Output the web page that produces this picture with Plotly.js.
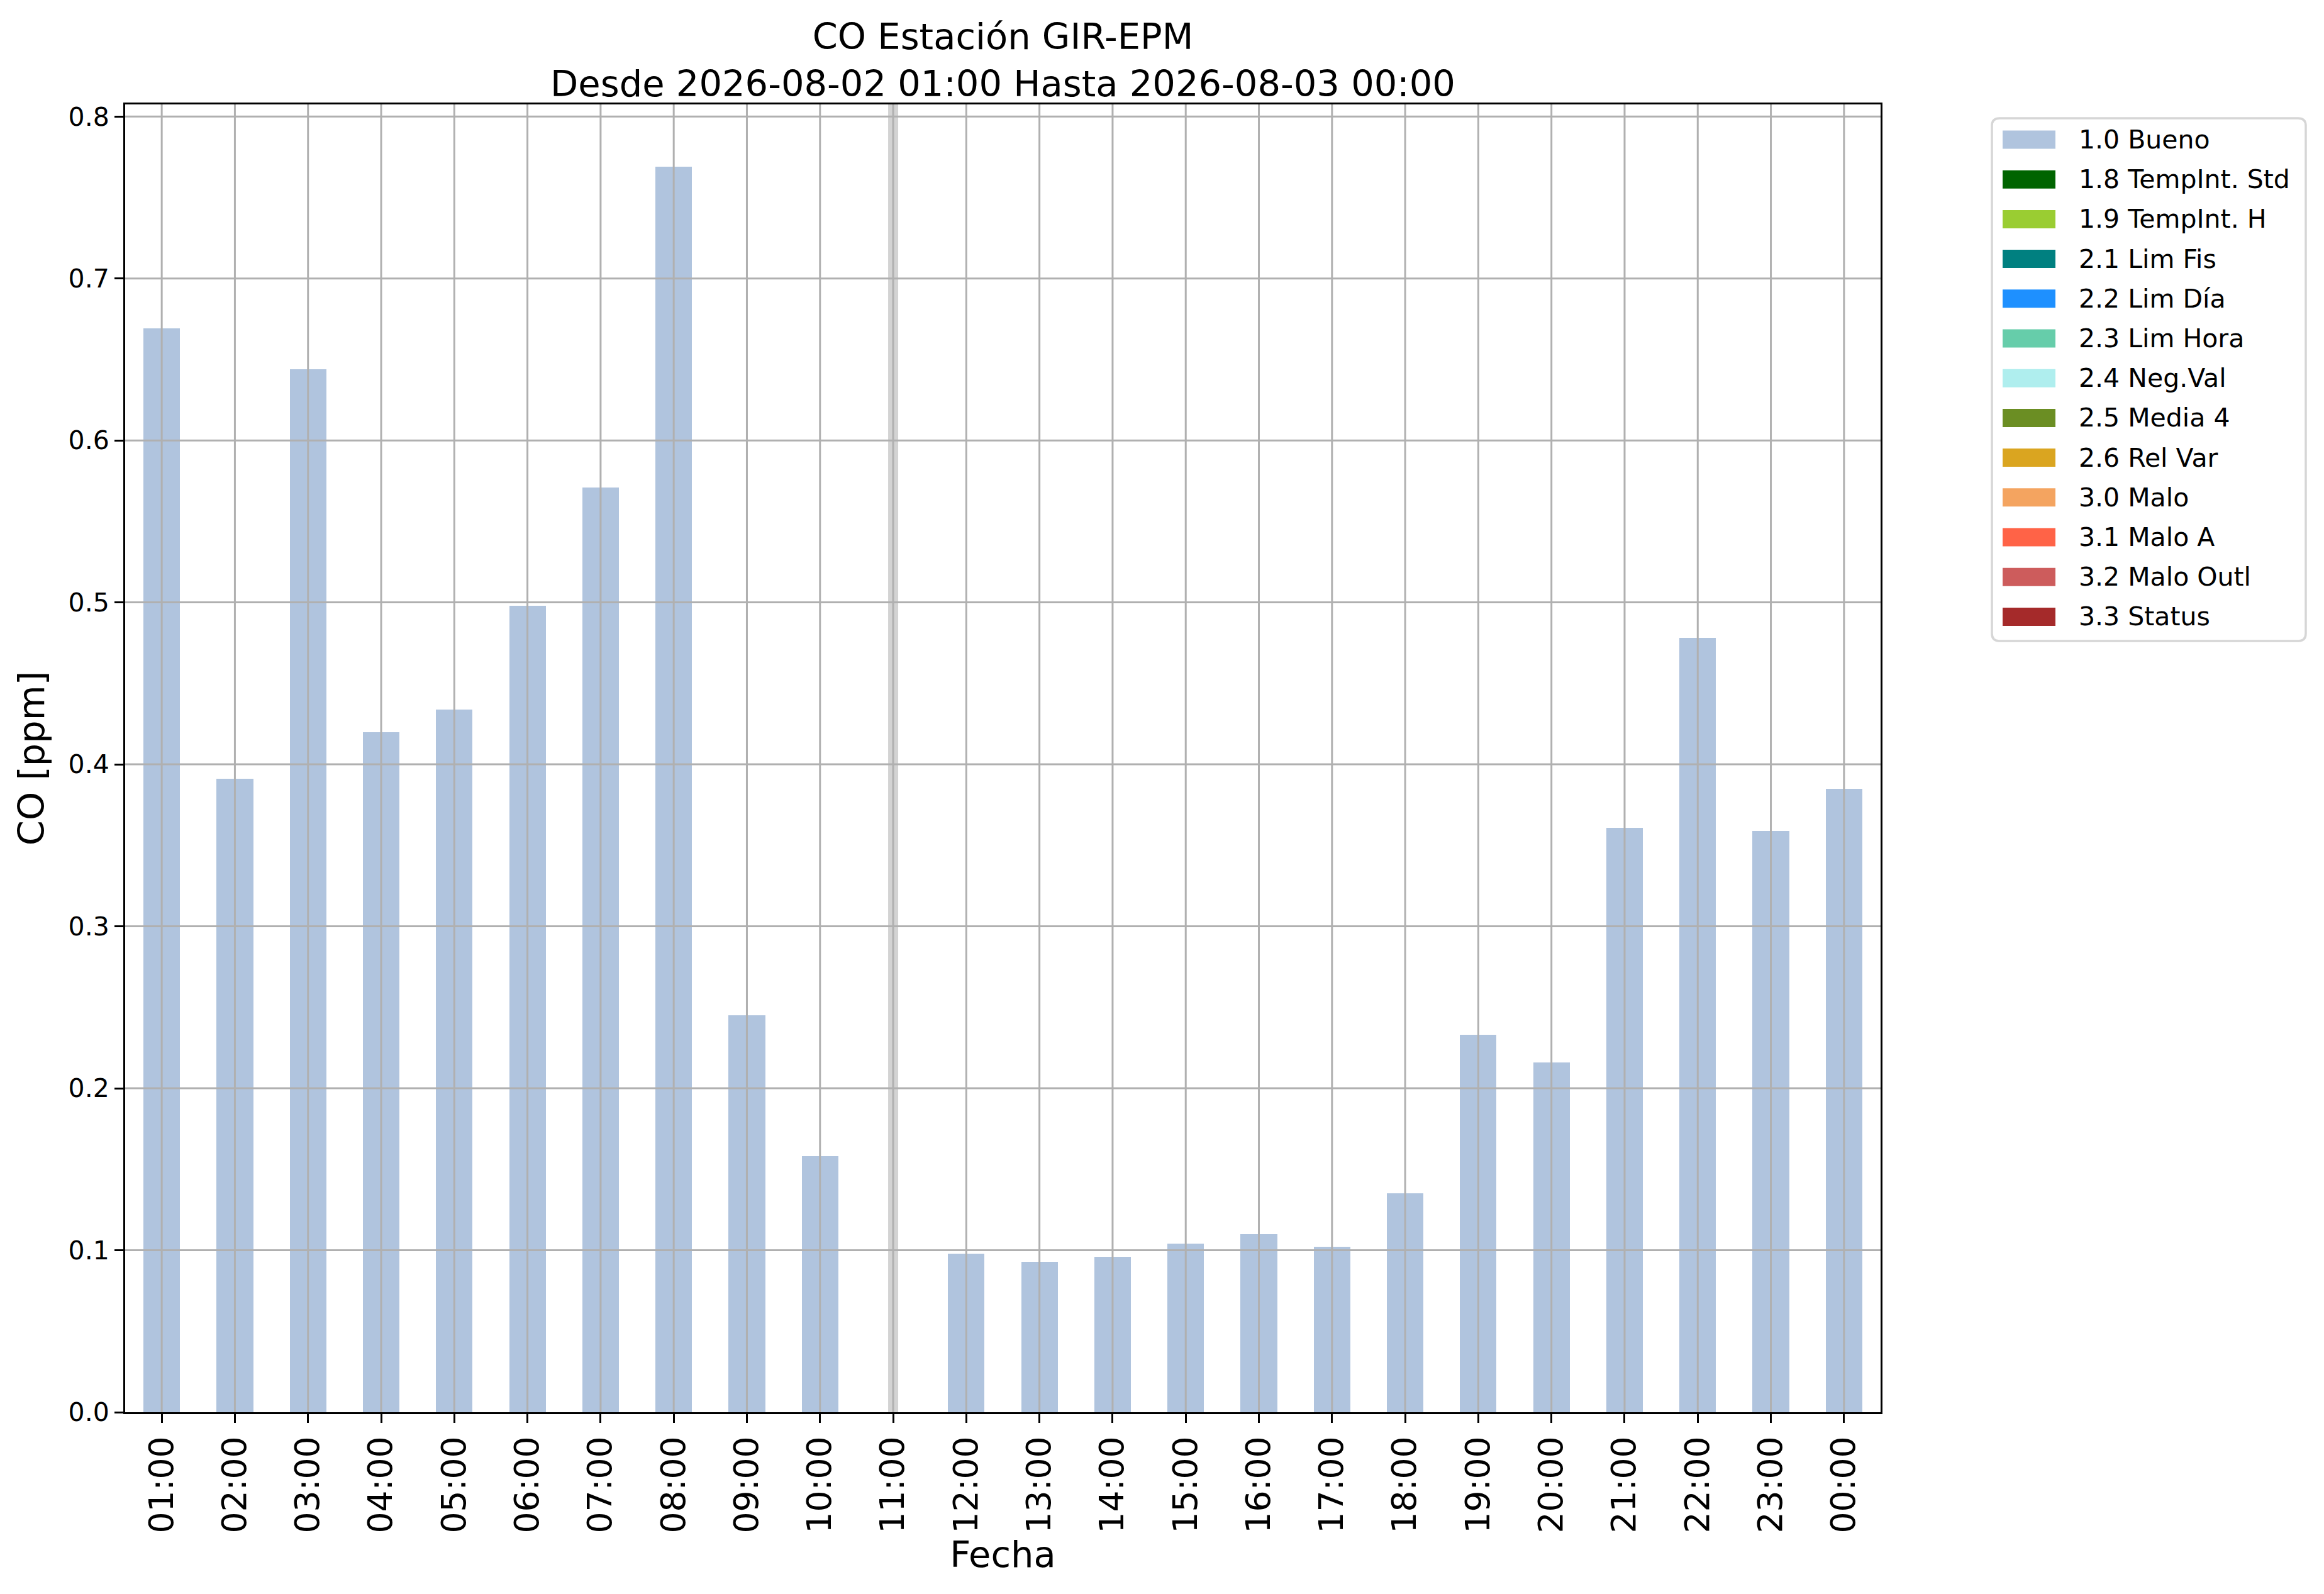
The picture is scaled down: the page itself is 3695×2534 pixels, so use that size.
<!DOCTYPE html>
<html>
<head>
<meta charset="utf-8">
<script src="https://cdn.plot.ly/plotly-3.0.1.min.js"></script>
<style>
  html, body { margin: 0; padding: 0; background: #fff; }
  #chart { width: 3695px; height: 2534px; }
</style>
</head>
<body>
<div id="chart"></div>
<script>
// hourly CO, station GIR-EPM
const hours = ['01:00', '02:00', '03:00', '04:00', '05:00', '06:00', '07:00', '08:00',
  '09:00', '10:00', '11:00', '12:00', '13:00', '14:00', '15:00', '16:00',
  '17:00', '18:00', '19:00', '20:00', '21:00', '22:00', '23:00', '00:00'];
const coValues = [0.669, 0.391, 0.644, 0.420, 0.434, 0.498, 0.571, 0.769,
  0.245, 0.158, null, 0.098, 0.093, 0.096, 0.104, 0.110,
  0.102, 0.135, 0.233, 0.216, 0.361, 0.478, 0.359, 0.385];
const coFlags = ['1.0 Bueno', '1.0 Bueno', '1.0 Bueno', '1.0 Bueno', '1.0 Bueno', '1.0 Bueno', '1.0 Bueno', '1.0 Bueno',
  '1.0 Bueno', '1.0 Bueno', null, '1.0 Bueno', '1.0 Bueno', '1.0 Bueno', '1.0 Bueno', '1.0 Bueno',
  '1.0 Bueno', '1.0 Bueno', '1.0 Bueno', '1.0 Bueno', '1.0 Bueno', '1.0 Bueno', '1.0 Bueno', '1.0 Bueno'];
const missingHours = ['11:00'];
const yTicks = [0.0, 0.1, 0.2, 0.3, 0.4, 0.5, 0.6, 0.7, 0.8];

const flagLabels = ['1.0 Bueno', '1.8 TempInt. Std', '1.9 TempInt. H', '2.1 Lim Fis', '2.2 Lim Día',
  '2.3 Lim Hora', '2.4 Neg.Val', '2.5 Media 4', '2.6 Rel Var', '3.0 Malo', '3.1 Malo A',
  '3.2 Malo Outl', '3.3 Status'];
const flagColors = ['#B0C4DE', '#006400', '#9ACD32', '#008080', '#1E90FF',
  '#66CDAA', '#AFEEEE', '#6B8E23', '#DAA520', '#F4A460', '#FF6347',
  '#CD5C5C', '#A52A2A'];

const FONT = 'DejaVu Sans, sans-serif';
const W = 3695, H = 2534;
const M = { l: 199, r: 705, t: 166, b: 289 };
const plotW = W - M.l - M.r, plotH = H - M.t - M.b;
const px2x = px => (px - M.l) / plotW;
const py2y = py => (H - M.b - py) / plotH;

// one stacked bar trace per quality flag
const traces = flagLabels.map((flag, i) => ({
  type: 'bar', name: flag,
  x: hours,
  y: coValues.map((v, j) => coFlags[j] === flag ? v : null),
  marker: { color: flagColors[i], line: { width: 0 } },
  showlegend: false,
  hovertemplate: '%{x}<br>%{y:.3f} ppm<extra>' + flag + '</extra>',
}));

const maxVal = Math.max(...coValues.filter(v => v !== null));
const yMax = maxVal * 1.05;

const shapes = [];
// gap marker for hours without data
missingHours.forEach(h => shapes.push({
  type: 'line', xref: 'x', yref: 'paper', x0: h, x1: h, y0: 0, y1: 1,
  line: { color: '#d3d3d3', width: 16 }, layer: 'below',
}));
// grid drawn over the bars, like the matplotlib original
hours.forEach(h => shapes.push({
  type: 'line', xref: 'x', yref: 'paper', x0: h, x1: h, y0: 0, y1: 1,
  line: { color: '#b0b0b0', width: 3 }, layer: 'above',
}));
yTicks.filter(t => t > 0).forEach(t => shapes.push({
  type: 'line', xref: 'paper', yref: 'y', x0: 0, x1: 1, y0: t, y1: t,
  line: { color: '#b0b0b0', width: 3 }, layer: 'above',
}));

// legend box (matplotlib style patches)
const LEG = { left: 3167, right: 3666, top: 188, bottom: 1019, patchX: 3184, patchW: 84, patchH: 29,
  firstY: 222, step: 63.2, textX: 3303, r: 12 };
const rx = LEG.r / plotW, ry = LEG.r / plotH;
const x0 = px2x(LEG.left), x1 = px2x(LEG.right), yT = py2y(LEG.top), yB = py2y(LEG.bottom);
shapes.push({
  type: 'path', xref: 'paper', yref: 'paper', layer: 'above',
  path: `M${x0 + rx},${yT} L${x1 - rx},${yT} Q${x1},${yT} ${x1},${yT - ry} L${x1},${yB + ry} ` +
        `Q${x1},${yB} ${x1 - rx},${yB} L${x0 + rx},${yB} Q${x0},${yB} ${x0},${yB + ry} ` +
        `L${x0},${yT - ry} Q${x0},${yT} ${x0 + rx},${yT} Z`,
  fillcolor: '#ffffff', line: { color: '#d6d6d6', width: 3.5 },
});
const annotations = [];
flagLabels.forEach((flag, i) => {
  const cy = LEG.firstY + i * LEG.step;
  shapes.push({
    type: 'rect', xref: 'paper', yref: 'paper', layer: 'above',
    x0: px2x(LEG.patchX), x1: px2x(LEG.patchX + LEG.patchW),
    y0: py2y(cy + LEG.patchH / 2), y1: py2y(cy - LEG.patchH / 2),
    fillcolor: flagColors[i], line: { width: 0 },
  });
  annotations.push({
    xref: 'paper', yref: 'paper', x: px2x(LEG.textX), y: py2y(cy),
    xanchor: 'left', yanchor: 'middle', showarrow: false,
    text: flag, font: { family: FONT, size: 41, color: '#000' },
  });
});

const axisCommon = {
  showline: true, linecolor: '#000', linewidth: 3, mirror: true,
  ticks: 'outside', ticklen: 14, tickwidth: 3, tickcolor: '#000',
  showgrid: false, zeroline: false, fixedrange: true,
};

const layout = {
  width: W, height: H,
  paper_bgcolor: '#fff', plot_bgcolor: '#fff',
  font: { family: FONT, color: '#000' },
  margin: M,
  barmode: 'stack', bargap: 0.5,
  showlegend: false,
  title: {
    text: 'CO Estación GIR-EPM<br>Desde 2026-08-02 01:00 Hasta 2026-08-03 00:00',
    font: { family: FONT, size: 57.5, color: '#000' },
    x: 0.5, xref: 'paper', xanchor: 'center',
    y: 1, yref: 'paper', yanchor: 'bottom', pad: { b: 88 },
  },
  xaxis: {
    ...axisCommon,
    type: 'category', categoryorder: 'array', categoryarray: hours,
    range: [-0.5, hours.length - 0.5],
    tickangle: -90,
    tickfont: { family: FONT, size: 53.5, color: '#000' },
    title: { text: 'Fecha', font: { family: FONT, size: 57.5, color: '#000' }, standoff: 8 },
  },
  yaxis: {
    ...axisCommon,
    range: [0, yMax],
    tickmode: 'array', tickvals: yTicks, tickformat: '.1f',
    tickfont: { family: FONT, size: 41, color: '#000' },
    title: { text: 'CO [ppm]', font: { family: FONT, size: 57.5, color: '#000' }, standoff: 20 },
  },
  shapes, annotations,
};

Plotly.newPlot('chart', traces, layout, { displayModeBar: false, responsive: false });
</script>
</body>
</html>
